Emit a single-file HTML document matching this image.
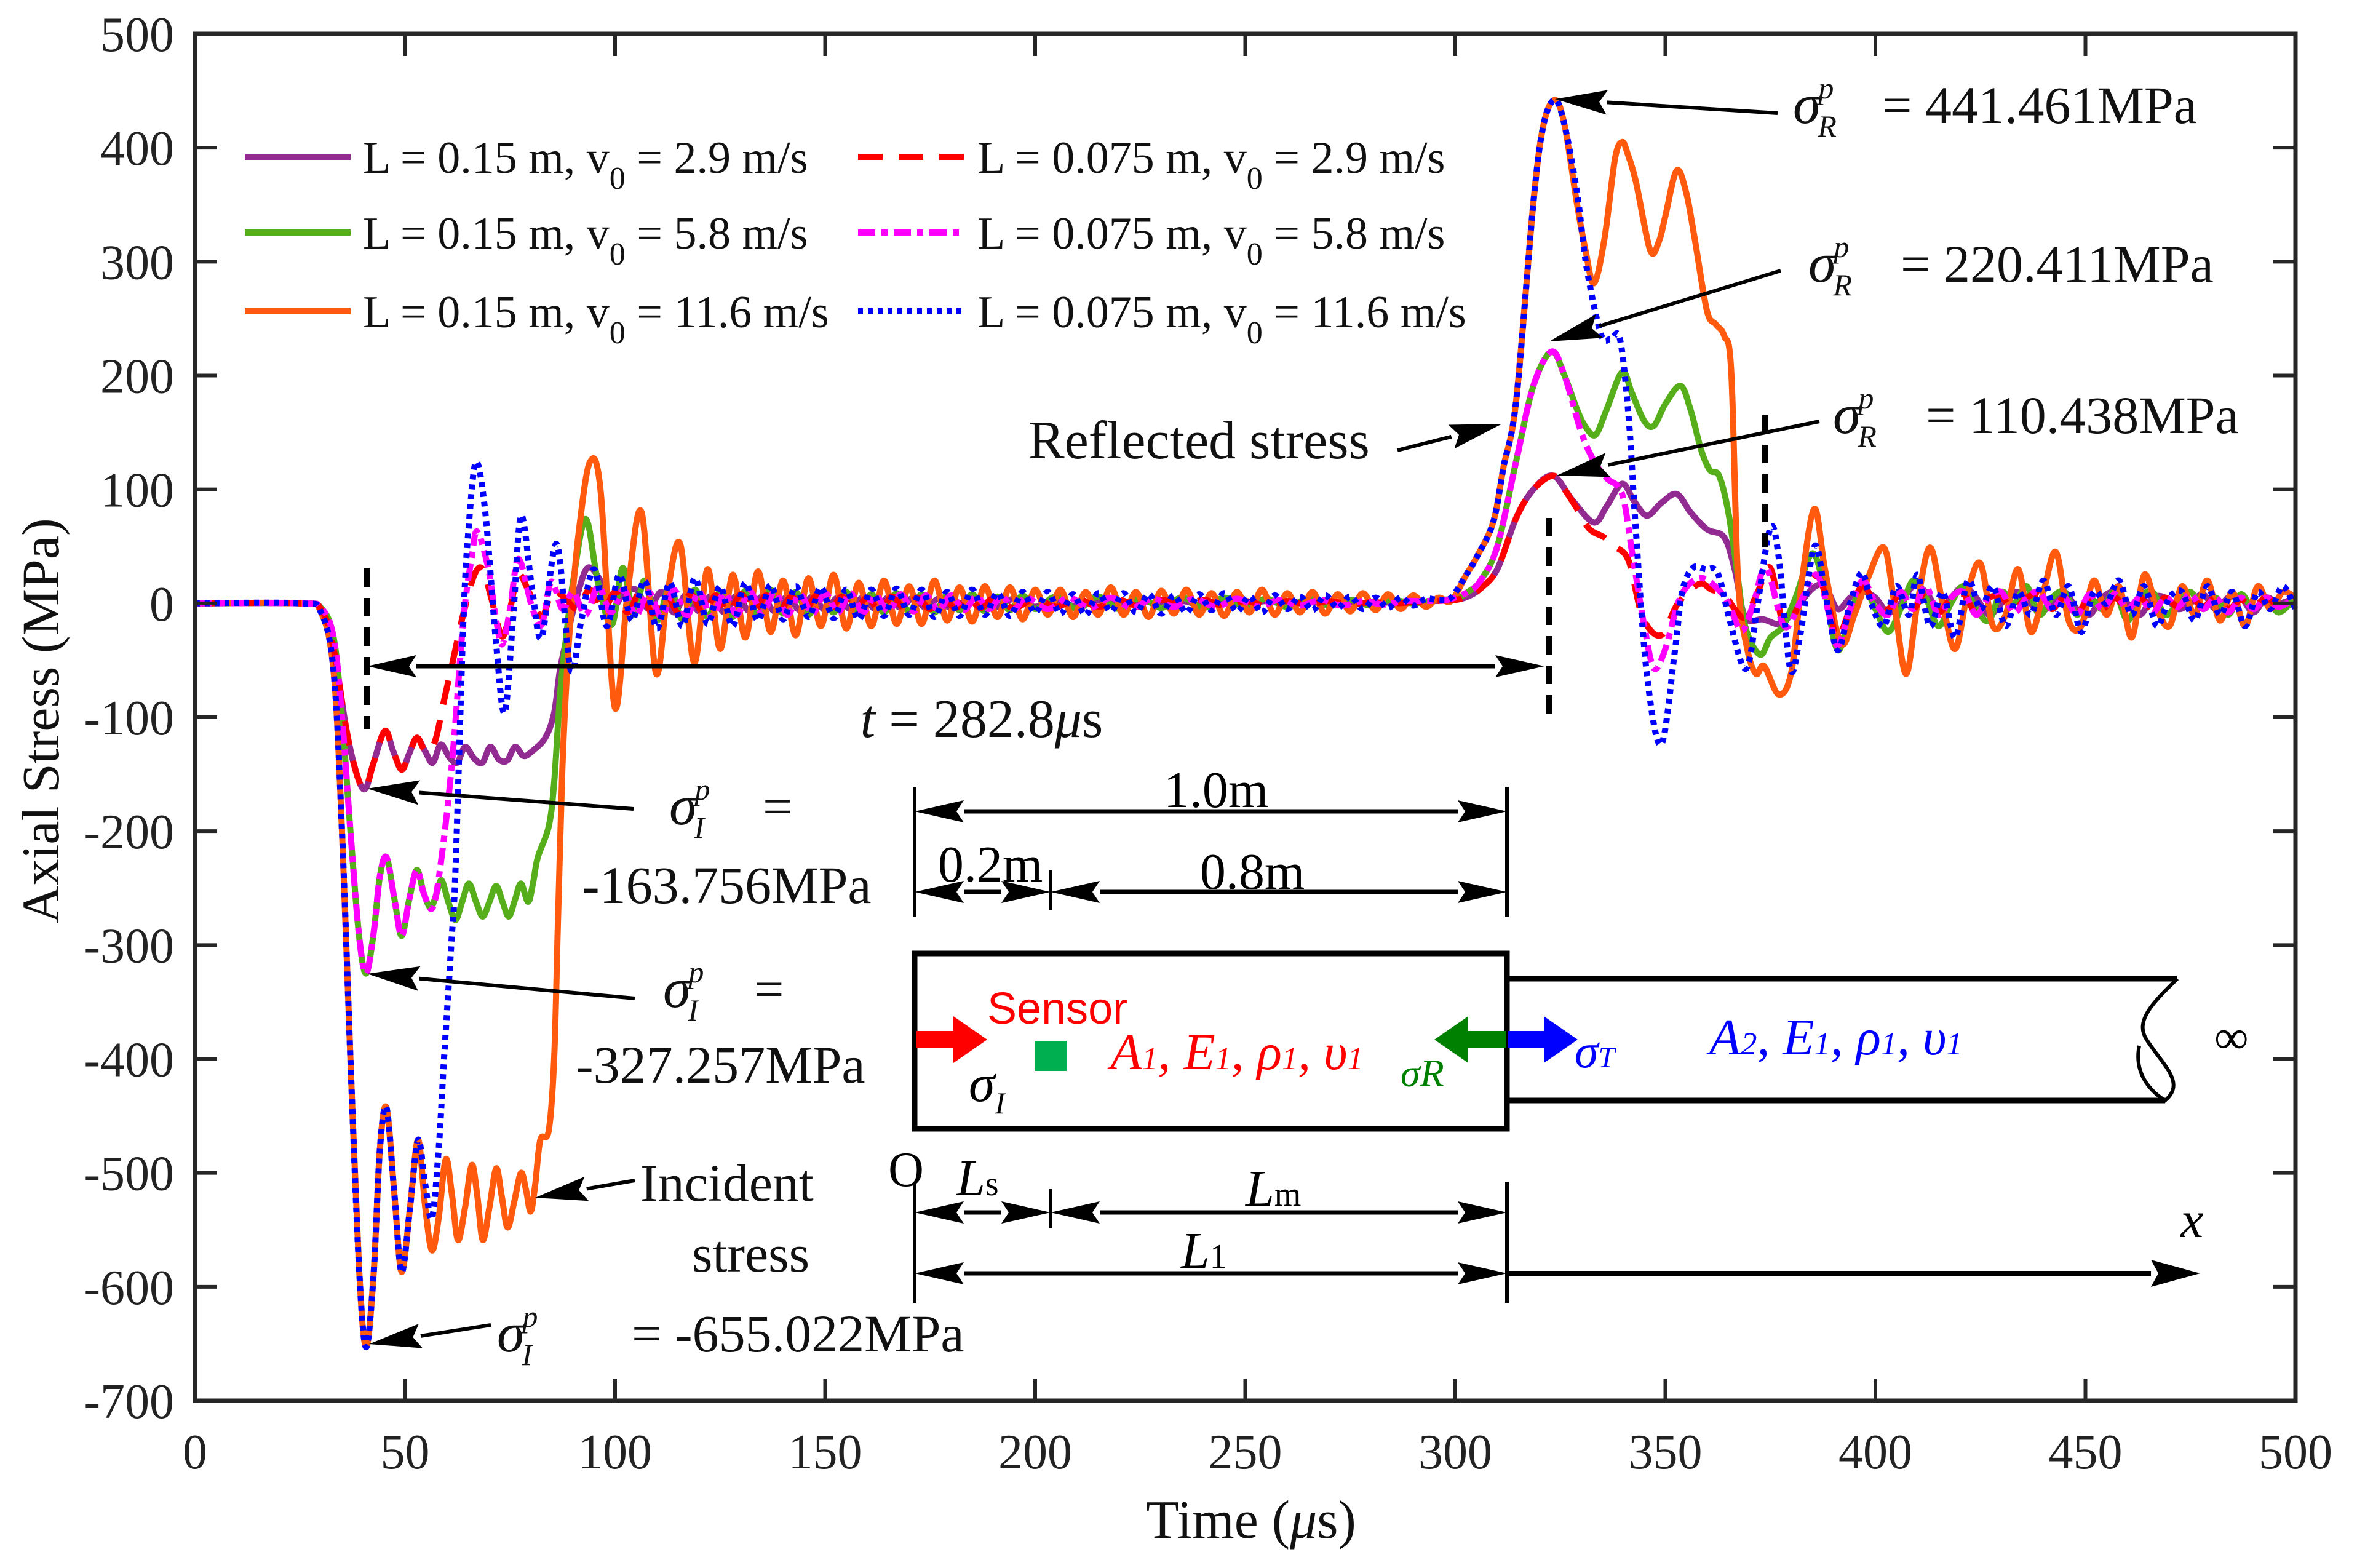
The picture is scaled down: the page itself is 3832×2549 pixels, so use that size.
<!DOCTYPE html>
<html><head><meta charset="utf-8"><style>
html,body{margin:0;padding:0;background:#fff;}
svg{display:block;font-family:"Liberation Serif",serif;}
</style></head><body>
<svg id="chart" xmlns="http://www.w3.org/2000/svg" width="3832" height="2549" viewBox="0 0 3832 2549">
<rect x="0" y="0" width="3832" height="2549" fill="#fff"/>
<g id="series"></g>
<g id="axes"></g>
<g id="annot" font-size="88" fill="#111">
  <text transform="translate(95,1172) rotate(-90)" text-anchor="middle" font-size="86">Axial Stress (MPa)</text>
  <text x="2034" y="2500" text-anchor="middle" font-size="88">Time (<tspan font-style="italic">μ</tspan>s)</text>
  <text x="1672" y="745" font-size="88">Reflected stress</text>
  <text x="1596" y="1198" text-anchor="middle" font-size="88"><tspan font-style="italic">t</tspan> = 282.8<tspan font-style="italic">μ</tspan>s</text>
  <text x="2915" y="200" font-size="92" font-style="italic">σ<tspan font-size="50" dx="-4" dy="-40">p</tspan><tspan font-size="50" dx="-26" dy="62">R</tspan></text>
  <text x="3060" y="200" font-size="86">= 441.461MPa</text>
  <text x="2940" y="458" font-size="92" font-style="italic">σ<tspan font-size="50" dx="-4" dy="-40">p</tspan><tspan font-size="50" dx="-26" dy="62">R</tspan></text>
  <text x="3090" y="458" font-size="86">= 220.411MPa</text>
  <text x="2980" y="704" font-size="92" font-style="italic">σ<tspan font-size="50" dx="-4" dy="-40">p</tspan><tspan font-size="50" dx="-26" dy="62">R</tspan></text>
  <text x="3131" y="704" font-size="86">= 110.438MPa</text>
  <text x="1088" y="1340" font-size="92" font-style="italic">σ<tspan font-size="50" dx="-4" dy="-40">p</tspan><tspan font-size="50" dx="-26" dy="62">I</tspan></text>
  <text x="1240" y="1340" font-size="86">=</text>
  <text x="946" y="1468" font-size="86">-163.756MPa</text>
  <text x="1078" y="1637" font-size="92" font-style="italic">σ<tspan font-size="50" dx="-4" dy="-40">p</tspan><tspan font-size="50" dx="-26" dy="62">I</tspan></text>
  <text x="1226" y="1637" font-size="86">=</text>
  <text x="936" y="1760" font-size="86">-327.257MPa</text>
  <text x="1041" y="1952" font-size="86">Incident</text>
  <text x="1125" y="2067" font-size="86">stress</text>
  <text x="808" y="2197" font-size="92" font-style="italic">σ<tspan font-size="50" dx="-4" dy="-40">p</tspan><tspan font-size="50" dx="-26" dy="62">I</tspan></text>
  <text x="1027" y="2197" font-size="86">= -655.022MPa</text>
</g>
<g id="diagram" fill="none" stroke="#000">
  <rect x="1487" y="1550" width="963" height="285" stroke-width="9"/>
  <path d="M2450,1591 L3540,1591 M2450,1789 L3520,1789" stroke-width="9"/>
  <path d="M3540,1591 C3500,1630 3470,1660 3490,1690 C3515,1730 3555,1760 3520,1789 C3490,1770 3470,1740 3478,1700" stroke-width="6"/>
  <g stroke-width="6">
    <line x1="1487" y1="1279" x2="1487" y2="1491"/><line x1="2450" y1="1279" x2="2450" y2="1491"/>
    <line x1="1708" y1="1415" x2="1708" y2="1480"/>
    <line x1="1487" y1="1925" x2="1487" y2="2118"/><line x1="1708" y1="1933" x2="1708" y2="1997"/><line x1="2450" y1="1921" x2="2450" y2="2118"/>
  </g>
</g>
<g id="diagtext" font-size="84">
  <text x="1977" y="1312" text-anchor="middle">1.0m</text>
  <text x="1610" y="1433" text-anchor="middle">0.2m</text>
  <text x="2036" y="1445" text-anchor="middle">0.8m</text>
  <text x="1605" y="1664" fill="#ff0000" font-family="Liberation Sans, sans-serif" font-size="72">Sensor</text>
  <rect x="1682" y="1692" width="52" height="49" fill="#00b050"/>
  <text x="1805" y="1738" fill="#ff0000" font-style="italic" font-size="84">A<tspan font-size="52">1</tspan>, E<tspan font-size="52">1</tspan>, ρ<tspan font-size="52">1</tspan>, υ<tspan font-size="52">1</tspan></text>
  <text x="2779" y="1714" fill="#0000ff" font-style="italic" font-size="84">A<tspan font-size="52">2</tspan>, E<tspan font-size="52">1</tspan>, ρ<tspan font-size="52">1</tspan>, υ<tspan font-size="52">1</tspan></text>
  <text x="1575" y="1790" font-style="italic" font-size="86">σ<tspan font-size="50" dy="20">I</tspan></text>
  <text x="2277" y="1766" fill="#008000" font-style="italic" font-size="64">σR</text>
  <text x="2560" y="1735" fill="#0000ff" font-style="italic" font-size="78">σ<tspan font-size="48">T</tspan></text>
  <text x="3600" y="1712" font-size="78">∞</text>
  <text x="1473" y="1928" text-anchor="middle" font-size="80">O</text>
  <text x="1555" y="1943" font-style="italic">L<tspan font-style="normal" font-size="56">s</tspan></text>
  <text x="2025" y="1960" font-style="italic">L<tspan font-style="normal" font-size="56">m</tspan></text>
  <text x="1920" y="2061" font-style="italic">L<tspan font-style="normal" font-size="56">1</tspan></text>
  <text x="3545" y="2011" font-style="italic">x</text>
</g>
<g id="arrows"></g>
<g id="legend"></g>
</svg>
<script>
// ---- data (time in µs, stress in MPa) ----
const purpleT=[0,25,30,33,36,38.5,40.5,42.5,45.2,47.2,49.2,51,52.8,54.8,56.6,58.5,60.5,62.4,64.3,66.4,68.4,70.3,72.3,74.3,76.2,78.2,80.2,83.4,85.5,86.9,88.9,90.7,93.4,96.5,99,102,105,108,111,114,117,120,123,126,129,132,135,138,141,144,147,150,153,156,159,162,165,168,171,174,177,180,185,190,195,200,205,210,215,220,225,230,235,240,245,250,255,260,265,270,275,280,285,290,295,300,303,306,310,314.5,318.6,323.3,328,333,336,339.7,342.5,345.6,349,352.7,356,359.9,364,366.5,369,373.3,377.4,381,385,388,391,394,397,400,403,406,409,412,415,418,421,424,427,430,433,436,439,442,445,448,451,454,457,460,463,466,469,472,475,478,481,484,487,490,493,496,500];
const purpleV=[0,0,-5,-40,-110,-150,-163,-140,-112,-130,-146,-132,-118,-130,-140,-124,-135,-140,-126,-136,-140,-126,-137,-138,-126,-134,-130,-118,-96,-58,-24,3,31,20,-5,8,12,-5,10,-8,8,-7,7,-8,7,-7,6,-7,6,-6,6,-6,5,-5,5,-5,5,-4,5,-4,4,-4,4,-4,4,-3,3,-3,3,-2,3,-2,2,-2,2,-1,2,-1,1,0,1,0,1,1,2,3,6,13,30,75,100,112,90,71,85,105,90,77,88,96,80,65,58,30,-12,-14,-18,-5,13,15,-5,5,10,5,-8,0,15,10,-5,5,15,5,-10,0,10,5,-8,0,10,-5,-10,5,10,0,-10,5,5,-5,0,8,-5,5,5,-8,5,0,5];
const greenT=[0,25,30,33,35,37,39,40.7,42.5,44,45.6,47.5,49.2,51,52.8,54.5,56.1,57.5,58.7,60.3,62,63.6,65.2,66.9,68.5,70.1,71.7,73.2,74.7,76.2,77.6,79.3,80.5,81.6,84.2,85.5,86.9,88.3,90,93,95.9,99.2,101.8,104.5,107,110,113,116,119,122,125,128,131,134,137,140,143,146,149,152,155,158,161,164,167,170,173,176,179,182,185,188,191,194,197,200,205,210,215,220,225,230,235,240,245,250,255,260,265,270,275,280,285,290,295,300,303,306,310,314.5,318.6,322.9,326,329,331,333.4,336,339.7,342,345,347.3,350,353.6,356,358.5,360.6,362.8,365,367,369,372.5,375,378,381,385,388,391,394,397,400,403,406,409,412,415,418,421,424,427,430,433,436,439,442,445,448,451,454,457,460,463,466,469,472,475,478,481,484,487,490,493,496,500];
const greenV=[0,0,-4,-30,-100,-200,-290,-325,-290,-240,-223,-260,-292,-260,-234,-255,-267,-255,-243,-262,-278,-262,-246,-262,-275,-262,-248,-262,-275,-260,-246,-262,-245,-223,-196,-157,-80,-31,19,74,19,-19,31,-10,20,-15,14,-14,12,-12,10,-12,11,-10,12,-9,10,-10,9,-8,10,-9,8,-8,9,-7,8,-8,7,-6,8,-7,6,-6,7,-5,6,-5,6,-5,5,-4,5,-4,5,-3,4,-3,4,-2,3,-2,3,0,3,4,10,20,50,125,191,221,200,170,155,148,170,203,185,160,156,175,191,170,135,117,112,80,30,-20,-45,-30,-20,5,44,10,-41,-10,15,-5,-25,-5,20,5,-20,0,15,-5,-15,10,0,15,-10,5,10,-10,5,-5,10,-15,5,10,-10,0,10,-5,5,-10,8,-5,5,-8,5];
const orangeT=[0,25,30,33,35,37,39,40.7,42.5,44,45.6,47.5,49.2,51.2,53.1,54.8,56.4,58,59.7,61.2,62.6,64.3,65.9,67.2,68.5,70.1,71.7,73,74.4,76,77.6,78.8,79.9,81,82.2,84.2,85.5,86.4,87.4,88.4,89.4,91.4,94,96.6,99.9,103,106.3,109.7,112.5,115.5,118.8,122,125,128,131,134,137,140,143,146,149,152,155,158,161,164,167,170,173,176,179,182,185,188,191,194,197,200,203,206,209,212,215,218,221,224,227,230,233,236,239,242,245,248,251,254,257,260,263,266,269,272,275,278,281,284,287,290,293,296,299,302.6,305,309,311.5,314.5,318.6,321,323.7,326,329,331,333,335.5,338,339.7,341,343,346.4,348.5,350,352.7,355,357,359.9,362,364,365.7,367.3,369.5,371.6,373.5,377,380,382.5,385.5,388,391.8,395,398,402,404.5,407.3,410,413,416,419,422,425,428,431,434,437,440,443,446,449,452,455,458,461,464,467,470,473,476,479,482,485,488,491,494,497,500];
const orangeV=[0,0,-8,-60,-200,-400,-580,-653,-590,-480,-443,-520,-587,-530,-471,-530,-568,-540,-488,-520,-559,-530,-493,-520,-559,-530,-496,-520,-548,-525,-500,-515,-534,-510,-471,-463,-399,-280,-151,-70,-14,64,124,97,-91,10,80,-61,10,52,-52,30,-40,25,-30,28,-25,20,-28,22,-20,25,-22,18,-20,20,-18,15,-18,20,-15,14,-16,15,-12,14,-14,12,-10,12,-12,10,-10,14,-10,10,-12,11,-9,12,-10,9,-11,10,-8,12,-10,9,-8,10,-9,8,-7,9,-6,8,-5,7,-3,5,2,25,40,71,120,178,352,420,442,420,350,310,281,320,390,405,395,370,310,318,340,380,360,320,257,245,235,203,21,-40,-62,-55,-80,-60,20,83,30,-35,-10,20,49,0,-62,0,49,0,-40,10,35,-20,-10,30,-25,10,45,-15,-20,20,-10,15,-30,25,-5,-20,15,-10,20,-15,10,-20,15,-5,10,5];
const redT=[0,25,30,33,36,38.5,40.5,42.5,45.2,47.2,49.2,51,52.8,54.5,55.8,57.4,59.3,61.3,63.9,66.5,68.5,70.5,73.1,75,77,79.5,82.5,85,88,91,94,97,100,103,106,109,112,115,118,121,124,127,130,133,136,139,142,145,148,151,154,157,160,163,166,169,172,175,178,181,184,187,190,195,200,205,210,215,220,225,230,235,240,245,250,255,260,265,270,275,280,285,290,295,300,303,306,310,314.5,318.6,323.3,326,329.5,332,335.4,338,341.3,344.6,349,353,358,361,364,366.5,369,372,375,378.3,382,386,389,391,394,397,400,403,406,409,412,415,418,421,424,427,430,433,436,439,442,445,448,451,454,457,460,463,466,469,472,475,478,481,484,487,490,493,496,500];
const redV=[0,0,-5,-40,-110,-150,-163,-140,-112,-130,-146,-132,-118,-128,-130,-118,-85,-52,-9,25,30,5,-29,-5,25,10,-12,10,5,-5,12,-8,10,-8,10,-9,9,-8,8,-9,7,-8,8,-7,7,-7,6,-7,7,-6,6,-6,5,-6,6,-5,5,-5,5,-4,5,-4,4,-4,4,-3,4,-3,3,-3,3,-2,3,-2,2,-2,2,-1,2,-1,1,0,1,2,3,6,13,30,75,100,112,100,80,65,58,50,37,-12,-28,0,17,12,8,-5,-12,10,31,-20,0,25,-5,-30,-5,15,0,-5,8,-5,10,-8,5,8,-8,5,5,-5,5,8,-5,5,-8,5,-5,5,-5,5,-5,5,-3,5,-3,5,-5,3,-3,5,-2,3];
const magentaT=[0,25,30,33,35,37,39,40.7,42.5,44,45.6,47.5,49.2,51,52.8,54.5,56.6,58.7,61.3,63.9,65.9,67.2,69.8,71.5,73.1,75,77,80.2,82.5,84.8,87.5,90,93,96,99,102,105,108,111,114,117,120,123,126,129,132,135,138,141,144,147,150,153,156,159,162,165,168,171,174,177,180,183,186,189,192,195,198,203,208,213,218,223,228,233,238,243,248,253,258,263,268,273,278,283,288,293,298,303,306,310,314.5,318.6,322.9,326,330,333,336,339.7,342.2,345,347.3,350,353,355.7,359,362.4,365,368.2,371,374,378.3,382,386,389,391,394,397,400,403,406,409,412,415,418,421,424,427,430,433,436,439,442,445,448,451,454,457,460,463,466,469,472,475,478,481,484,487,490,493,496,500];
const magentaV=[0,0,-4,-30,-100,-200,-290,-325,-290,-240,-223,-260,-292,-260,-234,-255,-267,-223,-135,-14,41,63,31,-10,-36,-5,39,-3,-19,19,-5,10,-10,15,-8,12,-10,10,-12,12,-11,10,-12,9,-10,11,-9,10,-10,8,-9,9,-8,9,-8,7,-7,8,-7,7,-6,7,-6,6,-5,6,-5,5,-5,5,-4,5,-4,4,-3,4,-3,4,-3,3,-2,3,-2,2,-1,2,2,3,10,20,50,125,191,221,200,150,125,110,96,42,-20,-57,-40,0,17,22,13,0,-24,0,31,-20,0,25,-10,-37,-5,20,0,-10,10,-5,15,-10,5,10,-10,5,10,-8,5,10,-5,5,-10,8,-5,8,-5,5,-8,5,-3,8,-5,5,-8,5,-5,5,-3,5];
const blueT=[0,25,30,33,35,37,39,40.7,42.5,44,45.6,47.5,49.2,51.2,53.1,54.8,56.4,58,59.3,61,62,63.9,65.2,66.9,69.1,71.7,73.7,75.7,77.6,80.2,82.5,86.1,89.4,92,95,98,101,104,107,110,113,116,119,122,125,128,131,134,137,140,143,146,149,152,155,158,161,164,167,170,173,176,179,182,185,188,191,194,197,200,203,206,209,212,215,218,221,224,227,230,233,236,239,242,245,248,251,254,257,260,263,266,269,272,275,278,281,284,287,290,293,296,299,302.6,305,309,311.5,314.5,318.6,321,323.7,326,329,331.3,334.7,337,339.2,341.3,343,345.6,349,352.3,354,356.5,359.5,362.4,365,368.2,370,372,375,377,379.7,382,385.5,388,391,394,396.8,399,402,405,408,410,413,416,419,422,425,428,431,434,437,440,443,446,449,452,455,458,461,464,467,470,473,476,479,482,485,488,491,494,497,500];
const blueV=[0,0,-8,-60,-200,-400,-580,-653,-590,-480,-443,-520,-587,-530,-471,-510,-540,-480,-399,-300,-234,-14,69,124,80,-36,-96,-14,77,14,-30,52,-58,-14,30,-20,25,-15,20,-22,18,-20,22,-18,15,-20,18,-15,16,-14,15,-12,14,-13,12,-14,12,-11,13,-10,12,-12,10,-11,12,-10,9,-11,10,-8,10,-9,8,-10,9,-7,9,-8,8,-9,7,-8,8,-6,9,-7,6,-8,7,-5,6,-6,7,-4,6,-5,5,-4,5,-2,4,3,5,25,40,71,120,178,352,420,442,420,360,294,236,232,232,162,63,-62,-124,-41,10,31,30,27,-10,-53,-50,0,66,40,-57,-30,50,10,-41,0,27,0,-20,15,-10,25,-20,10,-30,20,-5,15,-20,10,-10,20,-10,15,-25,10,0,20,-10,15,-20,5,10,-15,15,-10,10,-20,10,-5,15,-5];
const xTicks=[0,50,100,150,200,250,300,350,400,450,500];
const yTicks=[500,400,300,200,100,0,-100,-200,-300,-400,-500,-600,-700];
const legendLabels=["L = 0.15 m, v","L = 0.15 m, v","L = 0.15 m, v","L = 0.075 m, v","L = 0.075 m, v","L = 0.075 m, v"];
const legendSpeeds=["2.9 m/s","5.8 m/s","11.6 m/s","2.9 m/s","5.8 m/s","11.6 m/s"];

// ---- axes functions ----
const PL=317,PR=3732,PT=55,PB=2277;
const X0=0,X1=500,Y0=-700,Y1=500;
function xs(t){return PL+(t-X0)/(X1-X0)*(PR-PL);}
function ys(v){return PB-(v-Y0)/(Y1-Y0)*(PB-PT);}
const NS="http://www.w3.org/2000/svg";
function mk(tag,attrs,parent){const e=document.createElementNS(NS,tag);for(const k in attrs)e.setAttribute(k,attrs[k]);parent.appendChild(e);return e;}

function smoothPath(T,V){
  const p=T.map((t,i)=>[xs(t),ys(V[i])]);
  let d="M"+p[0][0].toFixed(1)+","+p[0][1].toFixed(1);
  for(let i=0;i<p.length-1;i++){
    const p0=p[Math.max(0,i-1)],p1=p[i],p2=p[i+1],p3=p[Math.min(p.length-1,i+2)];
    const c1=[p1[0]+(p2[0]-p0[0])/6,p1[1]+(p2[1]-p0[1])/6];
    const c2=[p2[0]-(p3[0]-p1[0])/6,p2[1]-(p3[1]-p1[1])/6];
    d+=" C"+c1[0].toFixed(1)+","+c1[1].toFixed(1)+" "+c2[0].toFixed(1)+","+c2[1].toFixed(1)+" "+p2[0].toFixed(1)+","+p2[1].toFixed(1);
  }
  return d;
}
const series=[
 {T:purpleT,V:purpleV,c:"#922b91",dash:"",name:"series-l015-v29"},
 {T:greenT,V:greenV,c:"#56ae1a",dash:"",name:"series-l015-v58"},
 {T:orangeT,V:orangeV,c:"#ff5a0d",dash:"",name:"series-l015-v116"},
 {T:redT,V:redV,c:"#ff0000",dash:"40 26",name:"series-l0075-v29"},
 {T:magentaT,V:magentaV,c:"#ff00ff",dash:"28 10 10 10",name:"series-l0075-v58"},
 {T:blueT,V:blueV,c:"#0000ff",dash:"8 8",name:"series-l0075-v116"}
];
const sg=document.getElementById("series");
series.forEach(s=>{
  const el=mk("path",{d:smoothPath(s.T,s.V),fill:"none",stroke:s.c,"stroke-width":10,"stroke-dasharray":s.dash,"stroke-linejoin":"round"},sg);
  
  
});

// ---- axes ----
const ag=document.getElementById("axes");
const frame=mk("rect",{x:PL,y:PT,width:PR-PL,height:PB-PT,fill:"none",stroke:"#262626","stroke-width":7},ag);


xTicks.forEach(t=>{
  const x=xs(t);
  const tk=mk("path",{d:`M${x},${PB} V${PB-36} M${x},${PT} V${PT+36}`,stroke:"#262626","stroke-width":6},ag);
  
  
  const lb=mk("text",{x:x,y:2387,"text-anchor":"middle","font-size":80,fill:"#222"},ag);
  lb.textContent=t;
  
  
});
yTicks.forEach(v=>{
  const y=ys(v);
  const tk=mk("path",{d:`M${PL},${y} H${PL+36} M${PR},${y} H${PR-36}`,stroke:"#262626","stroke-width":6},ag);
  
  
  const lb=mk("text",{x:283,y:y+28,"text-anchor":"end","font-size":80,fill:"#222"},ag);
  lb.textContent=v;
  
  
});

// ---- arrows ----
const arg=document.getElementById("arrows");
function arrow(x1,y1,x2,y2,name,len,hw,sw){
  len=len||85;hw=hw||20;sw=sw||6;
  const dx=x2-x1,dy=y2-y1,L=Math.hypot(dx,dy),ux=dx/L,uy=dy/L;
  const bx=x2-ux*len,by=y2-uy*len;
  const g=mk("g",{},arg);
  
  
  mk("line",{x1:x1,y1:y1,x2:bx,y2:by,stroke:"#000","stroke-width":sw},g);
  mk("polygon",{points:`${x2},${y2} ${bx-uy*hw},${by+ux*hw} ${bx+ux*len*0.15},${by+uy*len*0.15} ${bx+uy*hw},${by-ux*hw}`,fill:"#000"},g);
}
function darrow(x1,y,x2,name){
  arrow((x1+x2)/2,y,x1,y,name+"-left",80,18,7);
  arrow((x1+x2)/2,y,x2,y,name+"-right",80,18,7);
}
arrow(2890,184,2528,161,"arrow-peak-r-441");
arrow(2895,440,2519,555,"arrow-peak-r-220");
arrow(2958,685,2531,773,"arrow-peak-r-110");
arrow(2272,732,2442,689,"arrow-reflected");
arrow(1030,1315,597,1282,"arrow-peak-i-163");
arrow(1032,1623,597,1583,"arrow-peak-i-327");
arrow(1032,1919,870,1947,"arrow-incident");
arrow(798,2154,600,2185,"arrow-peak-i-655");
darrow(597,1083,2511,"arrow-time-interval");
darrow(1487,1319,2450,"dim-1m");
darrow(1487,1450,1708,"dim-02m");
darrow(1708,1450,2450,"dim-08m");
darrow(1487,1971,1708,"dim-ls");
darrow(1708,1971,2450,"dim-lm");
darrow(1487,2070,2450,"dim-l1");
arrow(2450,2070,3577,2070,"x-axis-arrow",80,22,8);
function blockArrow(x1,x2,y,color,name){
  const dir=Math.sign(x2-x1),head=55;
  const g=mk("polygon",{points:`${x1},${y-14} ${x2-dir*head},${y-14} ${x2-dir*head},${y-38} ${x2},${y} ${x2-dir*head},${y+38} ${x2-dir*head},${y+14} ${x1},${y+14}`,fill:color},arg);
  
  
}
blockArrow(1490,1605,1690,"#ff0000","incident-wave-arrow");
blockArrow(2448,2332,1690,"#008000","reflected-wave-arrow");
blockArrow(2452,2565,1690,"#0000ff","transmitted-wave-arrow");
[[597,924,1185],[2519,842,1167],[2870,675,890]].forEach(d=>{
  const l=mk("line",{x1:d[0],y1:d[1],x2:d[0],y2:d[2],stroke:"#000","stroke-width":10,"stroke-dasharray":"30 18"},arg);
  
  
});

// ---- legend ----
const lg=document.getElementById("legend");
const legCols=[[398,590],[1395,1589]],legRows=[255,378,506];
series.forEach((s,i)=>{
  const col=legCols[Math.floor(i/3)],ry=legRows[i%3];
  const ln=mk("line",{x1:col[0],y1:ry,x2:col[0]+172,y2:ry,stroke:s.c,"stroke-width":10,"stroke-dasharray":s.dash},lg);
  
  
  const tx=mk("text",{x:col[1],y:ry+26,"font-size":74,fill:"#111"},lg);
  
  
  tx.appendChild(document.createTextNode(legendLabels[i]));
  const sub=mk("tspan",{"font-size":52,dy:26},tx);
  sub.textContent="0";
  const rest=mk("tspan",{dy:-26},tx);
  rest.textContent=" = "+legendSpeeds[i];
});
</script>
</body></html>
